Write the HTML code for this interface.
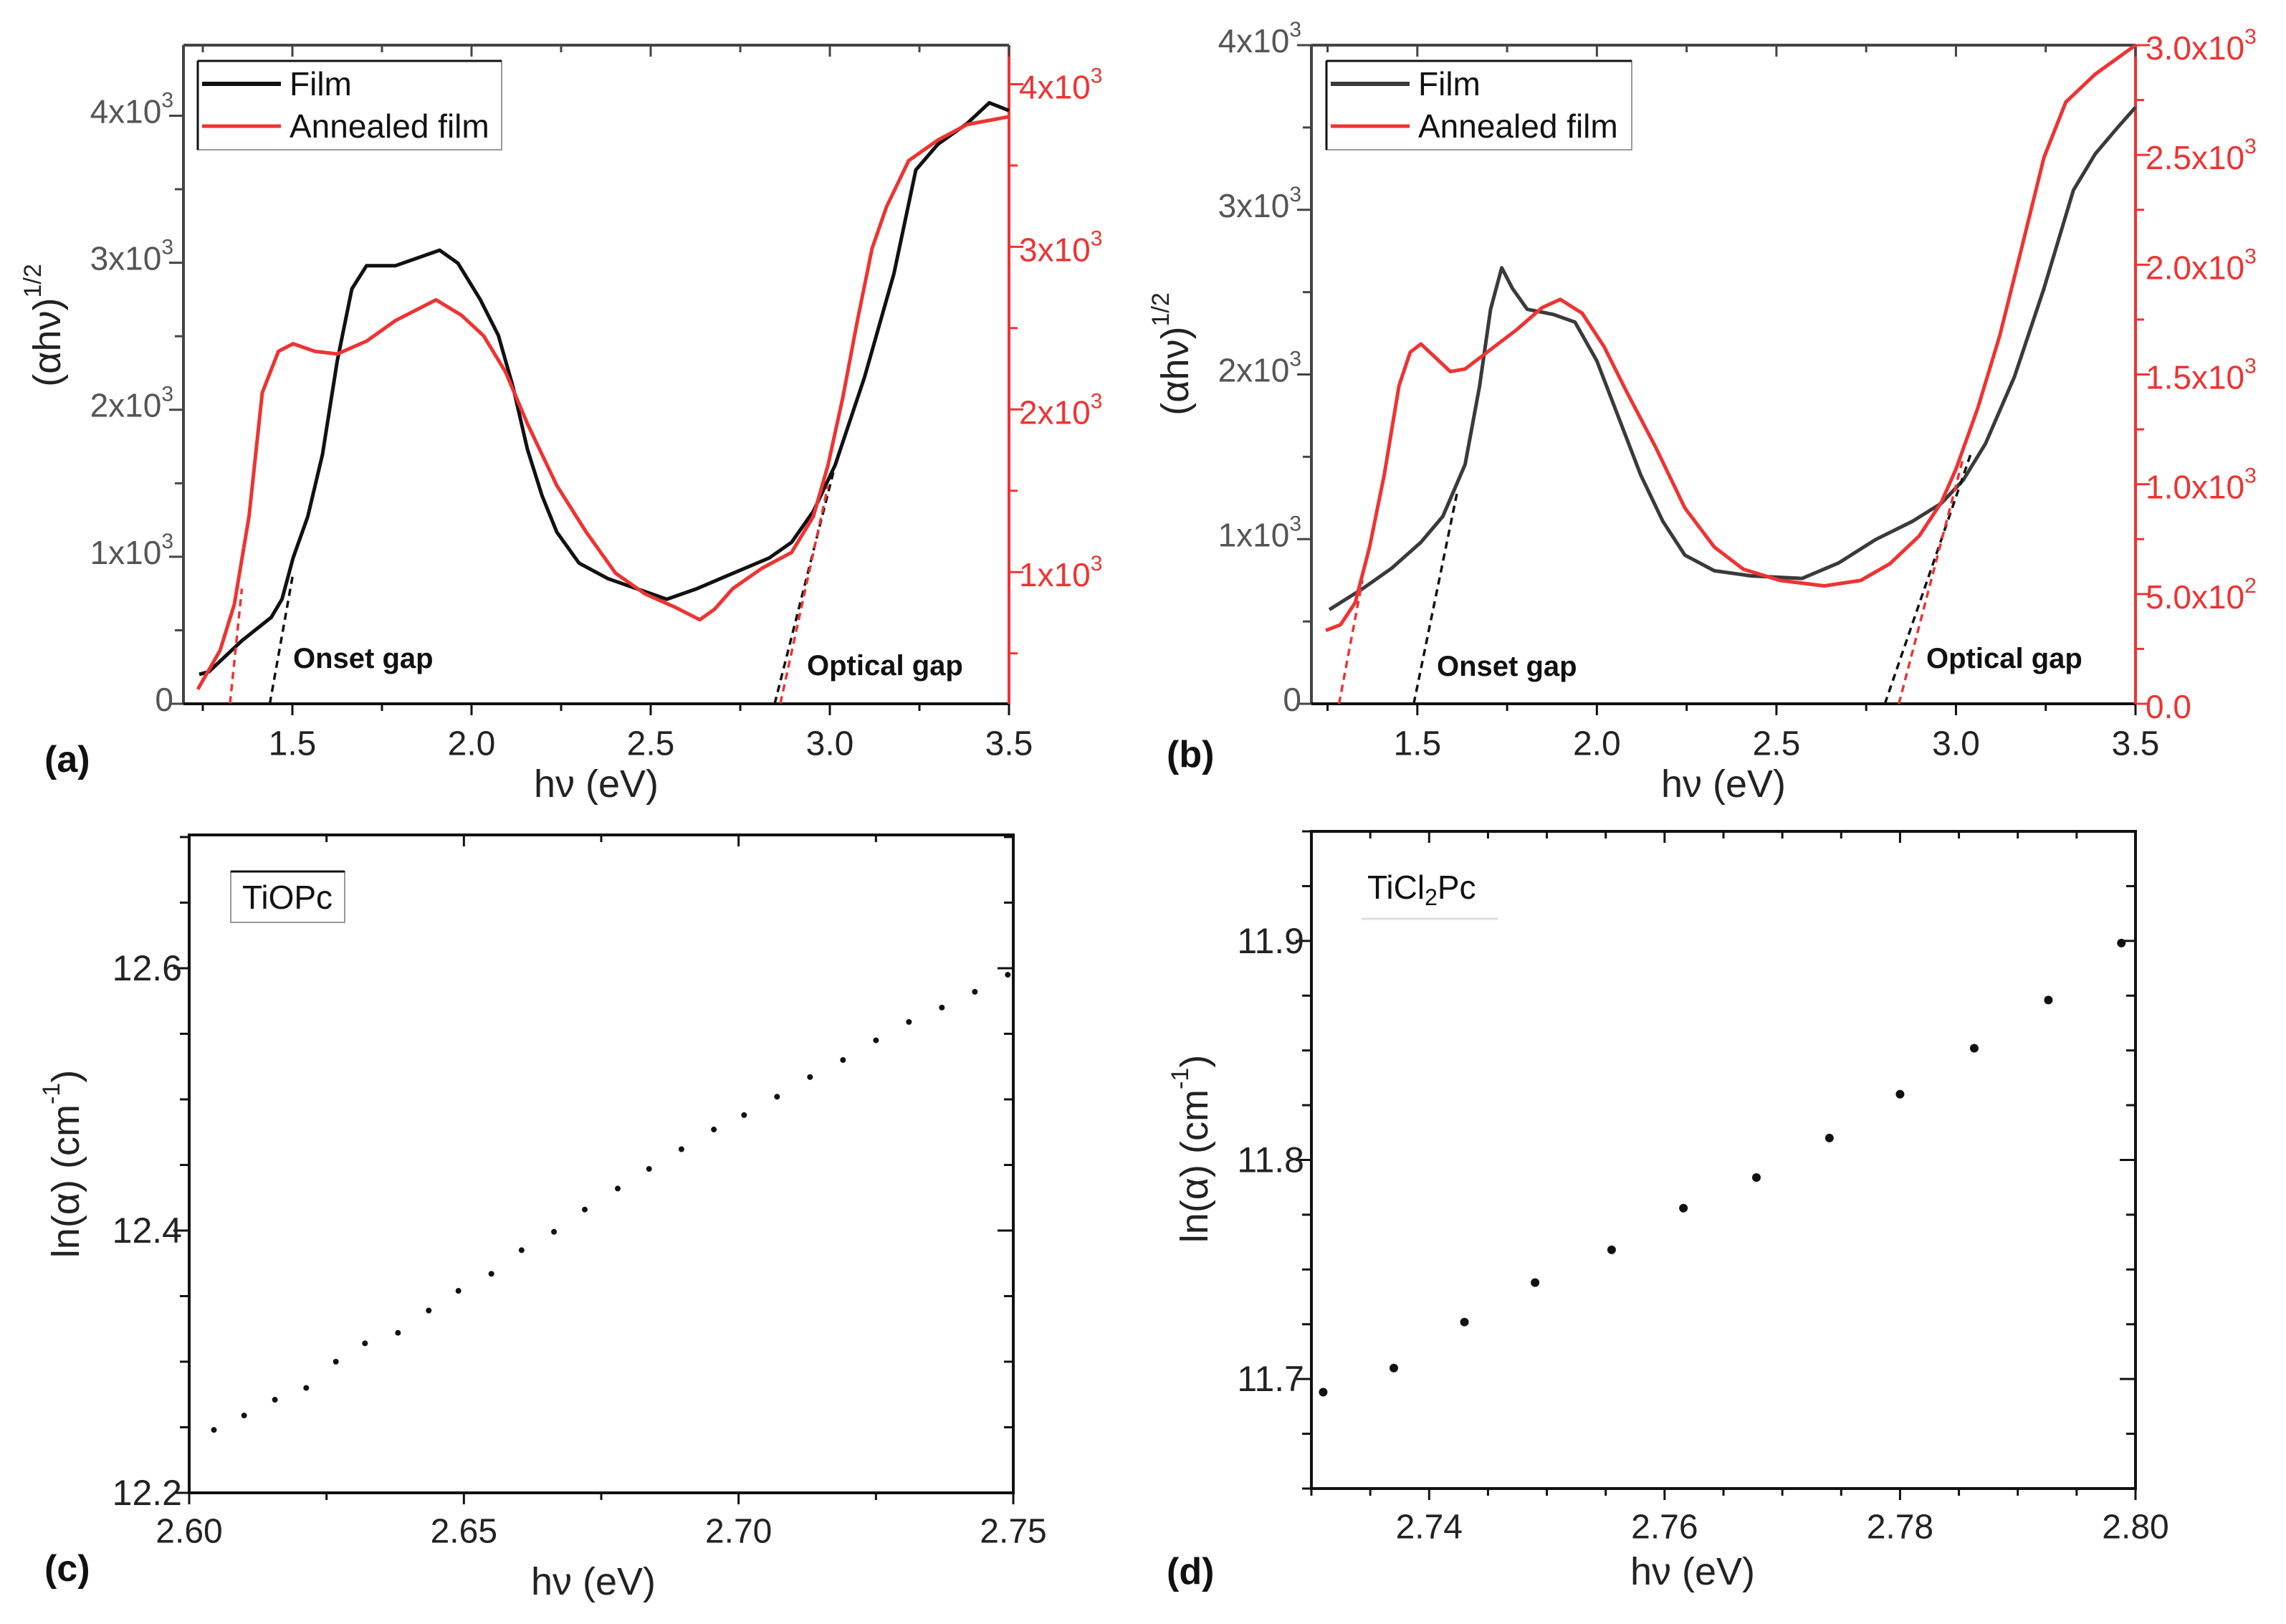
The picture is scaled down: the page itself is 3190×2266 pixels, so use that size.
<!DOCTYPE html>
<html><head><meta charset="utf-8"><style>
html,body{margin:0;padding:0;background:#fff;}
svg{display:block;font-family:"Liberation Sans",sans-serif;}
</style></head><body>
<svg id="fig" width="3190" height="2266" viewBox="0 0 3190 2266" xmlns="http://www.w3.org/2000/svg"></svg>
<script>
// ---- Panel (a) data ----
const aFilmX=[1.240,1.267,1.359,1.441,1.471,1.502,1.543,1.584,1.625,1.666,1.707,1.788,1.911,1.962,2.024,2.075,2.116,2.156,2.197,2.238,2.300,2.381,2.463,2.545,2.627,2.729,2.831,2.893,2.954,3.015,3.097,3.179,3.240,3.302,3.383,3.445,3.500];
const aFilmY=[200,218,429,588,711,992,1274,1696,2329,2822,2980,2980,3085,2997,2751,2505,2153,1731,1414,1168,957,851,781,711,781,887,992,1098,1309,1625,2223,2927,3631,3807,3947,4088,4035];
const aAnnX=[1.236,1.298,1.338,1.379,1.416,1.461,1.502,1.563,1.625,1.707,1.788,1.901,1.972,2.034,2.095,2.156,2.238,2.320,2.402,2.484,2.565,2.637,2.678,2.729,2.811,2.893,2.954,2.995,3.036,3.077,3.118,3.158,3.220,3.302,3.383,3.500];
const aAnnY=[279,517,802,1342,2103,2357,2404,2357,2341,2420,2547,2674,2579,2452,2230,1912,1532,1246,993,866,787,707,771,898,1024,1120,1342,1659,2071,2547,2991,3245,3530,3657,3752,3800];
const aOnsetBlack=[1.437,1.502,0,887];
const aOnsetRed=[1.326,1.359,193,898];
const aOptBlack=[2.846,3.015,0,1625];
const aOptRed=[2.862,2.995,193,1532];
const aLeftTicks=[0,1000,2000,3000,4000];
const aLeftLabels=["0","1x10³","2x10³","3x10³","4x10³"];
const aRightTicks=[1000,2000,3000,4000];
const aRightLabels=["1x10³","2x10³","3x10³","4x10³"];
const xTicksAB=[1.5,2.0,2.5,3.0,3.5];
const xLabelsAB=["1.5","2.0","2.5","3.0","3.5"];
// ---- Panel (b) data ----
const bFilmX=[1.255,1.347,1.429,1.510,1.571,1.633,1.673,1.704,1.735,1.765,1.806,1.878,1.939,2.000,2.061,2.122,2.184,2.245,2.327,2.429,2.571,2.673,2.776,2.878,2.959,3.020,3.082,3.163,3.245,3.327,3.388,3.449,3.500];
const bFilmY=[572,698,824,981,1138,1453,1925,2396,2648,2522,2396,2365,2318,2082,1736,1390,1107,903,808,777,761,855,997,1107,1217,1358,1579,1987,2522,3119,3340,3497,3623];
const bAnnX=[1.245,1.286,1.327,1.367,1.408,1.449,1.480,1.510,1.551,1.592,1.633,1.694,1.776,1.847,1.898,1.959,2.020,2.082,2.163,2.245,2.327,2.408,2.510,2.633,2.735,2.816,2.898,2.959,3.000,3.061,3.122,3.184,3.245,3.306,3.388,3.500];
const bAnnY=[334,360,461,714,1044,1449,1601,1639,1576,1513,1525,1601,1703,1804,1842,1779,1627,1424,1171,892,714,613,562,537,562,638,765,917,1069,1348,1677,2083,2488,2741,2868,3000];
const bOnsetBlack=[1.490,1.612,0,1296];
const bOnsetRed=[1.282,1.347,0,562];
const bOptBlack=[2.802,3.041,0,1516];
const bOptRed=[2.841,3.020,0,1120];
const bLeftTicks=[0,1000,2000,3000,4000];
const bLeftLabels=["0","1x10³","2x10³","3x10³","4x10³"];
const bRightTicks=[0,500,1000,1500,2000,2500,3000];
const bRightLabels=["0.0","5.0x10²","1.0x10³","1.5x10³","2.0x10³","2.5x10³","3.0x10³"];
// ---- Panel (c) data ----
const cX=[2.6045,2.610,2.6156,2.6213,2.6267,2.632,2.638,2.6436,2.649,2.655,2.6605,2.6664,2.672,2.678,2.6837,2.6896,2.6955,2.701,2.707,2.713,2.719,2.725,2.731,2.737,2.743,2.749];
const cY=[12.248,12.259,12.271,12.280,12.300,12.314,12.322,12.339,12.354,12.367,12.385,12.399,12.416,12.432,12.447,12.462,12.477,12.488,12.502,12.517,12.530,12.545,12.559,12.570,12.582,12.595];
const cXTicks=[2.60,2.65,2.70,2.75];
const cXLabels=["2.60","2.65","2.70","2.75"];
const cYTicks=[12.2,12.4,12.6];
const cYLabels=["12.2","12.4","12.6"];
// ---- Panel (d) data ----
const dX=[2.731,2.737,2.743,2.749,2.7555,2.7616,2.7678,2.774,2.780,2.7863,2.7926,2.7988];
const dY=[11.694,11.705,11.726,11.744,11.759,11.778,11.792,11.810,11.830,11.851,11.873,11.899];
const dXTicks=[2.74,2.76,2.78,2.80];
const dXLabels=["2.74","2.76","2.78","2.80"];
const dYTicks=[11.7,11.8,11.9];
const dYLabels=["11.7","11.8","11.9"];

const NS="http://www.w3.org/2000/svg";
const svg=document.getElementById('fig');
function el(tag,attrs,parent,text){const e=document.createElementNS(NS,tag);for(const k in attrs)e.setAttribute(k,attrs[k]);if(text!==undefined)e.textContent=text;(parent||svg).appendChild(e);return e;}
function lin(d0,d1,p0,p1){return v=>p0+(v-d0)*(p1-p0)/(d1-d0);}
const RED="#ee3333";
function txt(parent,x,y,s,opts){const t=el('text',Object.assign({x:x,y:y,'font-size':46,fill:'#333','dominant-baseline':'central'},opts||{}),parent);
  const m=s.match(/^(.*x10)([²³])$/);
  if(m){t.appendChild(document.createTextNode(m[1]));const sp=document.createElementNS(NS,'tspan');sp.setAttribute('dy',-16);sp.setAttribute('font-size',30);sp.textContent=m[2]==='³'?'3':'2';t.appendChild(sp);}
  else t.textContent=s;return t;}

function uvPanel(o){
  const g=el('g',{});
  
  
  const X=lin(o.xmin,o.xmax,o.L,o.R), YL=lin(o.lmin,o.lmax,o.B,o.T), YR=lin(o.rmin,o.rmax,o.B,o.T);
  const fr=el('g',{},g);
  el('line',{x1:o.L,y1:o.T,x2:o.R,y2:o.T,stroke:'#444','stroke-width':4},fr);
  el('line',{x1:o.L,y1:o.T,x2:o.L,y2:o.B,stroke:'#444','stroke-width':4},fr);
  el('line',{x1:o.L,y1:o.B,x2:o.R,y2:o.B,stroke:'#111','stroke-width':4},fr);
  el('line',{x1:o.R,y1:o.T,x2:o.R,y2:o.B,stroke:RED,'stroke-width':4},fr);
  const xt=el('g',{},g);
  for(let v=1.25;v<=3.5001;v+=0.25){const major=Math.abs(v*2-Math.round(v*2))<1e-6;const px=X(v);
    el('line',{x1:px,y1:o.B,x2:px,y2:o.B+(major?16:10),stroke:'#111','stroke-width':3},xt);
    el('line',{x1:px,y1:o.T,x2:px,y2:o.T+(major?16:10),stroke:'#444','stroke-width':3},xt);}
  xTicksAB.forEach((v,i)=>{const t=txt(xt,X(v),o.B+56,xLabelsAB[i],{'text-anchor':'middle',fill:'#222','font-size':48});});
  const xtitle=el('text',{x:(o.L+o.R)/2,y:o.B+112,'text-anchor':'middle','dominant-baseline':'central','font-size':54,fill:'#222'},g,'hν (eV)');
  
  const yl=el('g',{},g);
  for(let v=o.lmin;v<=o.lmax+1;v+=500){const major=v%1000===0;el('line',{x1:o.L,y1:YL(v),x2:o.L-(major?20:12),y2:YL(v),stroke:'#444','stroke-width':3},yl);}
  o.lTicks.forEach((v,i)=>{const t=txt(yl,o.L-14,YL(v)-6,o.lLabels[i],{'text-anchor':'end',fill:'#555'});});
  const yr=el('g',{},g);
  for(let v=o.rstep0;v<=o.rmax;v+=o.rminor){const major=Math.abs(v/o.rmajor-Math.round(v/o.rmajor))<1e-6;if(v<o.rmin)continue;el('line',{x1:o.R,y1:YR(v),x2:o.R+(major?20:12),y2:YR(v),stroke:RED,'stroke-width':3},yr);}
  o.rTicks.forEach((v,i)=>{const t=txt(yr,o.R+14,YR(v)+4,o.rLabels[i],{fill:RED});});
  const yt=el('text',{transform:`translate(${o.L-190},${o.ytY}) rotate(-90)`,'text-anchor':'middle','dominant-baseline':'central','font-size':54,fill:'#222'},g);
  yt.appendChild(document.createTextNode('(αhν)'));const sp=document.createElementNS(NS,'tspan');sp.setAttribute('dy',-20);sp.setAttribute('font-size',34);sp.textContent='1/2';yt.appendChild(sp);
  
  const film=el('polyline',{points:o.fx.map((x,i)=>X(x)+','+YL(o.fy[i])).join(' '),fill:'none',stroke:o.filmColor,'stroke-width':5,'stroke-linejoin':'round'},g);
  
  const ann=el('polyline',{points:o.ax.map((x,i)=>X(x)+','+YR(o.ay[i])).join(' '),fill:'none',stroke:RED,'stroke-width':5,'stroke-linejoin':'round'},g);
  
  [[o.ob,'#111',YL,'onset-fit-film'],[o.or,RED,YR,'onset-fit-annealed'],[o.pb,'#111',YL,'optical-fit-film'],[o.pr,RED,YR,'optical-fit-annealed']].forEach(f=>{
    const l=el('line',{x1:X(f[0][0]),x2:X(f[0][1]),y1:f[2](f[0][2]),y2:f[2](f[0][3]),stroke:f[1],'stroke-width':3.5,'stroke-dasharray':'10,7'},g);
    });
  const on=el('text',{x:o.onX,y:o.onY,'font-size':40,'font-weight':'bold',fill:'#111','dominant-baseline':'central'},g,'Onset gap');
  
  const op=el('text',{x:o.opX,y:o.opY,'font-size':40,'font-weight':'bold',fill:'#111','dominant-baseline':'central'},g,'Optical gap');
  
  const lg=el('g',{},g);
  el('rect',{x:o.lgX,y:o.lgY,width:o.lgW,height:124,fill:'#fff',stroke:'#999','stroke-width':2},lg);
  el('line',{x1:o.lgX,y1:o.lgY,x2:o.lgX,y2:o.lgY+124,stroke:'#111','stroke-width':3},lg);
  el('line',{x1:o.lgX,y1:o.lgY,x2:o.lgX+o.lgW,y2:o.lgY,stroke:'#111','stroke-width':3},lg);
  const e1=el('g',{},lg);
  el('line',{x1:o.lgX+6,x2:o.lgX+116,y1:o.lgY+32,y2:o.lgY+32,stroke:o.filmColor,'stroke-width':6},e1);
  el('text',{x:o.lgX+128,y:o.lgY+32,'font-size':46,fill:'#111','dominant-baseline':'central'},e1,'Film');
  const e2=el('g',{},lg);
  el('line',{x1:o.lgX+6,x2:o.lgX+116,y1:o.lgY+91,y2:o.lgY+91,stroke:RED,'stroke-width':5},e2);
  el('text',{x:o.lgX+128,y:o.lgY+91,'font-size':46,fill:'#111','dominant-baseline':'central'},e2,'Annealed film');
  const pl=el('text',{x:o.plX,y:o.plY,'font-size':52,'font-weight':'bold',fill:'#111','dominant-baseline':'central'},g,o.pl);
  
}

uvPanel({name:'panel-a',L:256,R:1408,T:63,B:982,xmin:1.196,xmax:3.5,lmin:0,lmax:4480,rmin:190,rmax:4240,
  rstep0:0,rminor:500,rmajor:1000,lTicks:aLeftTicks,lLabels:aLeftLabels,rTicks:aRightTicks,rLabels:aRightLabels,ytY:454,
  fx:aFilmX,fy:aFilmY,ax:aAnnX,ay:aAnnY,filmColor:'#111',ob:aOnsetBlack,or:aOnsetRed,pb:aOptBlack,pr:aOptRed,
  onX:409,onY:919,opX:1126,opY:929,lgX:276,lgY:85,lgW:424,plX:62,plY:1060,pl:'(a)'});
uvPanel({name:'panel-b',L:1830,R:2980,T:63,B:982,xmin:1.205,xmax:3.5,lmin:0,lmax:4000,rmin:0,rmax:3000,
  rstep0:0,rminor:250,rmajor:500,lTicks:bLeftTicks,lLabels:bLeftLabels,rTicks:bRightTicks,rLabels:bRightLabels,ytY:494,
  fx:bFilmX,fy:bFilmY,ax:bAnnX,ay:bAnnY,filmColor:'#3a3a3a',ob:bOnsetBlack,or:bOnsetRed,pb:bOptBlack,pr:bOptRed,
  onX:2005,onY:930,opX:2688,opY:919,lgX:1851,lgY:85,lgW:426,plX:1628,plY:1053,pl:'(b)'});

function scatPanel(o){
  const g=el('g',{});
  
  
  const X=lin(o.xmin,o.xmax,o.L,o.R), Y=lin(o.ymin,o.ymax,o.B,o.T);
  const fr=el('rect',{x:o.L,y:o.T,width:o.R-o.L,height:o.B-o.T,fill:'none',stroke:'#111','stroke-width':4},g);
  
  const xa=el('g',{},g);
  for(let i=0;;i++){const v=o.xstart+i*o.xminor;if(v>o.xmax+1e-9)break;const major=o.xTicks.some(t=>Math.abs(t-v)<1e-9);const px=X(v);
    el('line',{x1:px,y1:o.B,x2:px,y2:o.B+(major?16:10),stroke:'#111','stroke-width':3},xa);
    el('line',{x1:px,y1:o.T,x2:px,y2:o.T+(major?16:10),stroke:'#111','stroke-width':3},xa);}
  o.xTicks.forEach((v,i)=>{const t=txt(xa,X(v),o.B+54,o.xLabels[i],{'text-anchor':'middle',fill:'#222','font-size':48});});
  const ya=el('g',{},g);
  for(let i=0;;i++){const v=o.ystart+i*o.yminor;if(v>o.ymax+1e-9)break;const major=o.yTicks.some(t=>Math.abs(t-v)<1e-9);const py=Y(v);
    el('line',{x1:o.L,y1:py,x2:o.L-(major?22:13),y2:py,stroke:'#111','stroke-width':3},ya);
    el('line',{x1:o.R,y1:py,x2:o.R-(major?22:13),y2:py,stroke:'#111','stroke-width':3},ya);}
  o.yTicks.forEach((v,i)=>{const t=txt(ya,o.L-10,Y(v),o.yLabels[i],{'text-anchor':'end',fill:'#222','font-size':50});});
  o.xs.forEach((x,i)=>{const c=el('circle',{cx:X(x),cy:Y(o.ys[i]),r:o.r,fill:'#111'},g);});
  const xt=el('text',{x:o.xtX,y:o.xtY,'text-anchor':'middle','dominant-baseline':'central','font-size':54,fill:'#222'},g,'hν (eV)');
  
  const yt=el('text',{transform:`translate(${o.ytX},${o.ytY}) rotate(-90)`,'text-anchor':'middle','dominant-baseline':'central','font-size':54,fill:'#222'},g);
  yt.appendChild(document.createTextNode('ln(α) (cm'));const sp=document.createElementNS(NS,'tspan');sp.setAttribute('dy',-20);sp.setAttribute('font-size',34);sp.textContent='-1';yt.appendChild(sp);
  const sp2=document.createElementNS(NS,'tspan');sp2.setAttribute('dy',20);sp2.textContent=')';yt.appendChild(sp2);
  
  const pl=el('text',{x:o.plX,y:o.plY,'font-size':52,'font-weight':'bold',fill:'#111','dominant-baseline':'central'},g,o.pl);
  
  return g;
}
const gc=scatPanel({name:'panel-c',L:264,R:1414,T:1165,B:2083,xmin:2.6,xmax:2.75,ymin:12.2,ymax:12.7016,xstart:2.6,xminor:0.025,ystart:12.2,yminor:0.05,
  xTicks:cXTicks,xLabels:cXLabels,yTicks:cYTicks,yLabels:cYLabels,xs:cX,ys:cY,r:4,xtX:828,xtY:2207,ytX:92,ytY:1624,plX:62,plY:2189,pl:'(c)'});
const cl=el('g',{},gc);
el('rect',{x:322,y:1216,width:159,height:71,fill:'#fff',stroke:'#999','stroke-width':2},cl);
el('line',{x1:322,y1:1216,x2:481,y2:1216,stroke:'#111','stroke-width':3},cl);
el('text',{x:401,y:1252,'text-anchor':'middle','dominant-baseline':'central','font-size':46,fill:'#111'},cl,'TiOPc');

const gd=scatPanel({name:'panel-d',L:1830,R:2980,T:1160,B:2077,xmin:2.73,xmax:2.80,ymin:11.65,ymax:11.95,xstart:2.73,xminor:0.005,ystart:11.65,yminor:0.025,
  xTicks:dXTicks,xLabels:dXLabels,yTicks:dYTicks,yLabels:dYLabels,xs:dX,ys:dY,r:6,xtX:2362,xtY:2193,ytX:1667,ytY:1603,plX:1628,plY:2193,pl:'(d)'});
const dl=el('g',{},gd);
el('line',{x1:1900,y1:1282,x2:2090,y2:1282,stroke:'#ddd','stroke-width':3},dl);
const dt=el('text',{x:1908,y:1238,'dominant-baseline':'central','font-size':46,fill:'#111'},dl);
dt.appendChild(document.createTextNode('TiCl'));const ds=document.createElementNS(NS,'tspan');ds.setAttribute('dy',14);ds.setAttribute('font-size',32);ds.textContent='2';dt.appendChild(ds);
const ds2=document.createElementNS(NS,'tspan');ds2.setAttribute('dy',-14);ds2.textContent='Pc';dt.appendChild(ds2);
</script>
</body></html>
